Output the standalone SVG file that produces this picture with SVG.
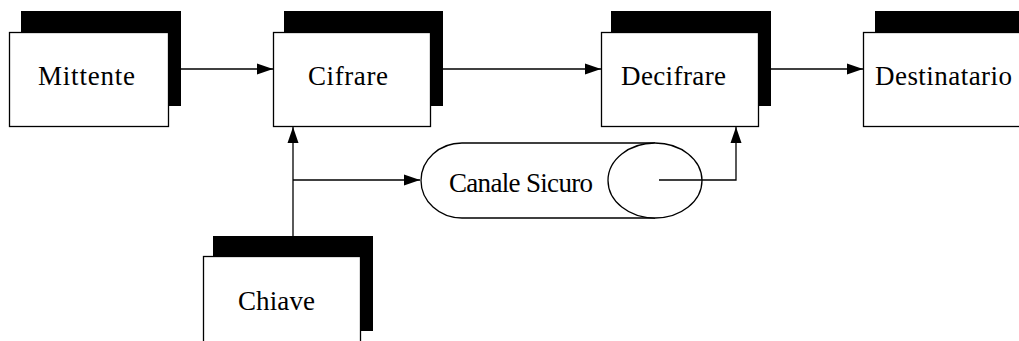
<svg xmlns="http://www.w3.org/2000/svg" width="1019" height="341" viewBox="0 0 1019 341">
<style>
.shadow{fill:#000}
.box{fill:#fff;stroke:#000;stroke-width:1.3}
.lbl{font-family:"Liberation Serif","Times New Roman",serif;font-size:27px;fill:#000}
.conn{fill:none;stroke:#000;stroke-width:1.3}
</style>
<defs>
<marker id="ah" viewBox="0 0 16 12" refX="16" refY="6" markerWidth="16" markerHeight="12" markerUnits="userSpaceOnUse" orient="auto">
<path d="M0,0.5 L16,6 L0,11.5 z" fill="#000"/>
</marker>
</defs>
<rect width="1019" height="341" fill="#fff"/>
<g id="connectors">
<line class="conn" x1="181" y1="69" x2="273" y2="69" marker-end="url(#ah)"/>
<line class="conn" x1="443" y1="69" x2="601" y2="69" marker-end="url(#ah)"/>
<line class="conn" x1="771" y1="69" x2="863" y2="69" marker-end="url(#ah)"/>
<line class="conn" x1="293" y1="236" x2="293" y2="127" marker-end="url(#ah)"/>
<line class="conn" x1="293" y1="180" x2="420" y2="180" marker-end="url(#ah)"/>
</g>
<g id="canale">
<path d="M462,143 A41,37.5 0 0 0 462,218 L655,218 L655,143 Z" fill="#fff"/>
<path class="conn" d="M655,143 L462,143 A41,37.5 0 0 0 462,218 L655,218"/>
<ellipse class="box" cx="655" cy="180.5" rx="47" ry="37.5"/>
<text class="lbl" x="449" y="192" textLength="144" lengthAdjust="spacing">Canale Sicuro</text>
</g>
<g id="connector-canale">
<path class="conn" d="M659,180 L736,180 L736,127" marker-end="url(#ah)"/>
</g>
<g id="mittente">
<rect class="shadow" x="21" y="11" width="160" height="95"/>
<rect class="box" x="9.5" y="32.5" width="159" height="94"/>
<text class="lbl" x="38" y="85" textLength="97" lengthAdjust="spacing">Mittente</text>
</g>
<g id="cifrare">
<rect class="shadow" x="284" y="11" width="159" height="95"/>
<rect class="box" x="273.5" y="32.5" width="157" height="94"/>
<text class="lbl" x="308" y="85" textLength="80" lengthAdjust="spacing">Cifrare</text>
</g>
<g id="decifrare">
<rect class="shadow" x="611" y="11" width="160" height="95"/>
<rect class="box" x="601.5" y="32.5" width="157" height="94"/>
<text class="lbl" x="621" y="85" textLength="105" lengthAdjust="spacing">Decifrare</text>
</g>
<g id="destinatario">
<rect class="shadow" x="875" y="11" width="160" height="95"/>
<rect class="box" x="863.5" y="32.5" width="160" height="94"/>
<text class="lbl" x="875" y="85" textLength="137" lengthAdjust="spacing">Destinatario</text>
</g>
<g id="chiave">
<rect class="shadow" x="213" y="236" width="160" height="95"/>
<rect class="box" x="203.5" y="256.5" width="157" height="94"/>
<text class="lbl" x="238" y="310" textLength="77" lengthAdjust="spacing">Chiave</text>
</g>
</svg>
